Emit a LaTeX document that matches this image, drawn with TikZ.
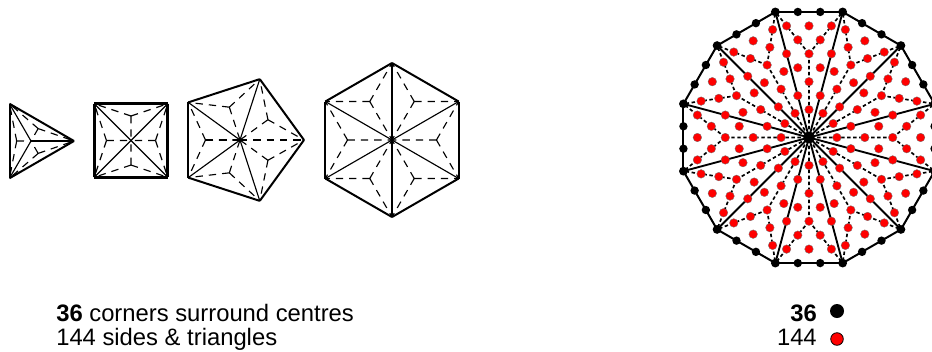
\documentclass[tikz,border=0pt]{standalone}
\usepackage{xcolor}
\usepackage{fontspec}
\setmainfont{Liberation Sans}
\usetikzlibrary{calc}

\begin{document}
\begin{tikzpicture}[
    x=0.75pt,y=-0.75pt,
    every node/.style={font=\fontsize{17.85}{21}\selectfont,inner sep=0pt},
    rimline/.style={draw=black,line join=round},
    spokeline/.style={draw=black,line width=0.85pt},
    tinydash/.style={draw=black,line width=0.85pt,dash pattern=on 5.5pt off 4.5pt},
    boldash/.style={draw=black,line width=1.4pt,dash pattern=on 5.5pt off 4.5pt},
    rimline12/.style={draw=black,line width=1.5pt,line join=round},
    spokeline12/.style={draw=black,line width=1.4pt},
    dashline12/.style={draw=black,line width=1.25pt,dash pattern=on 2.6pt off 1.9pt},
    blackdot/.style={fill=black},
    reddot/.style={fill=red,draw=black!55,line width=0.25pt},
]
\useasboundingbox (0,0) rectangle (932,351);
\clip (0,0) rectangle (932,351);

% the four small polygons: sides / centre x / centre y / radius / start angle / rim width
\foreach \n/\cx/\cy/\r/\rot/\w in {3/31/141/43/0/1.5pt, 4/131/140.5/52/45/2.2pt, 5/240/140/64/0/1.5pt, 6/392/140/77/30/1.5pt}{
    \coordinate (c\n) at (\cx,\cy);
    \foreach \k in {0,...,\n}{
        \pgfmathsetmacro\ang{\rot+360*\k/\n}
        \coordinate (p\n v\k) at ($(c\n)+(\ang:\r)$);
    }
    \foreach \k in {1,...,\n}{
        \pgfmathtruncatemacro\i{\k-1}
        \coordinate (g) at ($1/3*(c\n)+1/3*(p\n v\i)+1/3*(p\n v\k)$);
        \draw[tinydash] (g) -- (c\n);
        \draw[tinydash] (g) -- (p\n v\i);
        \draw[tinydash] (g) -- (p\n v\k);
        \draw[rimline,line width=\w] (p\n v\i) -- (p\n v\k);
        \ifnum\numexpr\n*10+\k\relax=55 \else
            \draw[spokeline] (c\n) -- (p\n v\k);
        \fi
    }
}
% horizontals come out heavier
\draw[spokeline,line width=1.5pt] (c3) -- (p3v0);
\draw[boldash] (c5) -- (p5v0);
\draw[boldash] (c5) -- ($(c5)+(-35,0)$);

% the 12-gon
\coordinate (hub) at (809,137.5);
\foreach \k in {0,...,12}{
    \pgfmathsetmacro\ang{15+30*\k}
    \coordinate (v\k) at ($(hub)+(\ang:130)$);
}
\foreach \k in {1,...,12}{
    \pgfmathtruncatemacro\i{\k-1}
    \coordinate (g\k) at ($1/3*(hub)+1/3*(v\i)+1/3*(v\k)$);
    \draw[dashline12] (g\k) -- (hub);
    \draw[dashline12] (g\k) -- (v\i);
    \draw[dashline12] (g\k) -- (v\k);
    \draw[spokeline12] (hub) -- (v\k);
    \draw[rimline12] (v\i) -- (v\k);
}
\foreach \k in {1,...,12}{
    \pgfmathtruncatemacro\i{\k-1}
    % corners and side points
    \fill[blackdot] (v\k) circle (4.4);
    \fill[blackdot] ($(v\i)!1/3!(v\k)$) circle (4.2);
    \fill[blackdot] ($(v\i)!2/3!(v\k)$) circle (4.2);
    % centroid, and thirds of the lines through it
    \filldraw[reddot] (g\k) circle (4.3);
    \foreach \t in {1/3,2/3}{
        \filldraw[reddot] ($(g\k)!\t!(hub)$) circle (4.3);
        \filldraw[reddot] ($(g\k)!\t!(v\i)$) circle (4.3);
        \filldraw[reddot] ($(g\k)!\t!(v\k)$) circle (4.3);
        \filldraw[reddot] ($(hub)!\t!(v\k)$) circle (4.3);
    }
    % middles of the three small triangles
    \filldraw[reddot] ($1/3*(g\k)+1/3*(hub)+1/3*(v\i)$) circle (4.3);
    \filldraw[reddot] ($1/3*(g\k)+1/3*(hub)+1/3*(v\k)$) circle (4.3);
    \filldraw[reddot] ($1/3*(g\k)+1/3*(v\i)+1/3*(v\k)$) circle (4.3);
}
\fill[blackdot] (hub) circle (4);

% legend
\node[anchor=base west] (corners) at (56,321) {\textbf{36} corners surround centres};
\node[anchor=base west] (sides) at (56,345) {144 sides \& triangles};
\node[anchor=base east] (count36) at (817,321) {\textbf{36}};
\node[anchor=base east] (count144) at (817,345) {144};
\fill[blackdot] (837,311) circle (7);
\filldraw[fill=red,draw=black,line width=0.6pt] (837,339) circle (6.3);
\end{tikzpicture}
\end{document}
